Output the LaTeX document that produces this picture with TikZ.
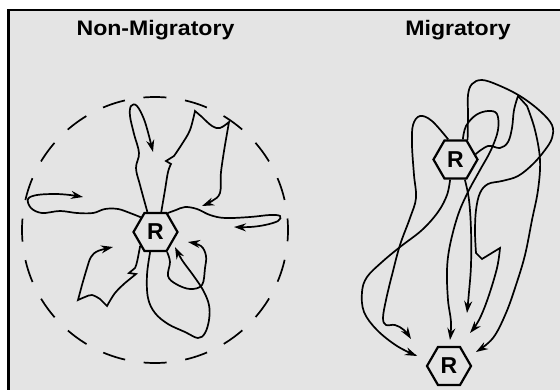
\documentclass[tikz,border=0pt]{standalone}
\usepackage{fontspec}
\setmainfont{Liberation Sans}
\newfontfamily\headfont[FakeStretch=1.1]{Liberation Sans}
\usetikzlibrary{arrows.meta,shapes.geometric}
\definecolor{panelgray}{RGB}{228,228,228}

\begin{document}
\begin{tikzpicture}[
    x=1pt, y=-1pt,
    hex/.style={draw, line width=2.2pt, regular polygon, regular polygon sides=6, minimum size=44pt, inner sep=0pt, fill=panelgray, font=\bfseries\fontsize{23}{23}\selectfont},
    head/.style={font=\headfont\bfseries\fontsize{21}{21}\selectfont, anchor=base},
    trk/.style={line width=1.7pt, -{Stealth[length=12pt,width=8pt]}}
]
\useasboundingbox (0,0) rectangle (560,389);
\clip (0,0) rectangle (560,389);
\fill[white] (0,0) rectangle (560,389);
\draw[line width=2.2pt, fill=panelgray] (8.5,10) rectangle (570,400);

\node[head] (nonmig) at (155.5,35.5) {Non-Migratory};
\node[head] (mig) at (458,35.5) {Migratory};

\draw[line width=1.7pt, dash pattern=on 23pt off 18.8pt, dash phase=11.5pt] (155,230) circle[radius=133pt];

\node[hex] (home) at (155.5,232) {R};
\node[hex] (start) at (455.5,159.5) {R};
\node[hex] (dest) at (449,366) {R};

% home range
\draw[trk] plot[smooth, tension=0.6] coordinates {(home.112) (140,185) (136,168) (139,153) (134,134) (130,116) (131,106) (137,106) (145,122) (153,152)};
\draw[trk] plot[smooth, tension=0.6] coordinates {(home.74) (165,190) (168,172) (171,164)} -- (166,161) -- plot[smooth, tension=0.6] coordinates {(174,156) (182,144) (190,130) (195,111)} -- plot[smooth, tension=0.6] coordinates {(202,117) (212,126) (220,128) (229,122)} -- plot[smooth, tension=0.6] coordinates {(225,145) (221,172) (220,193) (212,201) (202,206)};
\draw[trk] plot[smooth, tension=0.6] coordinates {(home.57) (176,210) (185,207) (197,209) (210,215) (225,218) (250,217) (270,215) (280,216) (278,221) (265,225) (250,227) (234,227)};
\draw[trk] plot[smooth, tension=0.6] coordinates {(home.135) (130,213) (118,209) (105,209) (93,213) (77,213) (60,211) (42,213) (31,208) (28,199) (37,195) (55,194) (70,195) (83,197)};
\draw[trk] plot[smooth, tension=0.6] coordinates {(home.222) (137,262) (135,268)} -- (129,273) -- (136,274) -- plot[smooth, tension=0.6] coordinates {(125,283) (115,293) (107,306)} -- plot[smooth, tension=0.6] coordinates {(100,299) (92,295) (85,297) (78,300)} -- plot[smooth, tension=0.6] coordinates {(82,285) (87,268) (91,257) (98,251) (113,247)};
\draw[trk] plot[smooth, tension=0.6] coordinates {(home.255) (147,275) (148,298) (155,313) (168,324) (185,332) (198,338) (205,333) (209,320) (209,305) (203,290) (193,275) (182,260) (175,247)};
\draw[trk] plot[smooth, tension=0.6] coordinates {(home.300) (170,262) (168,276) (176,284) (190,289) (202,285) (205,268) (206,256) (201,246) (188,242)};

% migration
\draw[trk] plot[smooth, tension=0.6] coordinates {(start.110) (432,121) (420,116) (413,125) (412,145) (414,175) (416,198) (410,218) (400,245) (392,275) (386,300) (383,318) (386,325) (395,325) (404,330) (411,339)};
\draw[trk] plot[smooth, tension=0.6] coordinates {(start.255) (447,195) (438,212) (422,230) (400,247) (382,262) (367,277) (362,292) (364,312) (377,330) (397,346) (417,356)};
\draw[trk] plot[smooth, tension=0.6] coordinates {(start.70) (466,126) (476,115) (488,111) (497,114) (498,130) (491,150) (480,170) (468,192) (458,215) (450,245) (447,270) (448,300) (451,322) (450,340)};
\draw[trk] plot[smooth, tension=0.6] coordinates {(start.-65) (469,200) (471,230) (471,265) (469,292) (467,313)};
\draw[trk] plot[smooth, tension=0.6] coordinates {(start.58) (468,115) (468,95) (472,84) (482,80) (498,85) (520,96) (540,111) (552,125) (552,138) (545,150) (533,164) (518,176) (502,181) (488,184) (480,193) (476,210) (475,232) (476,253)} -- (482,259) -- plot[smooth, tension=0.6] coordinates {(500,248) (497,268) (488,298) (479,320) (470,333)};
\draw[trk] plot[smooth, tension=0.6] coordinates {(start.15) (488,146) (500,148) (508,142) (512,128) (514,110) (518,96)} -- plot[smooth, tension=0.6] coordinates {(527,106) (535,130) (540,160) (538,190) (532,220) (525,255) (516,285) (506,313) (493,338) (476,352)};
\end{tikzpicture}
\end{document}
